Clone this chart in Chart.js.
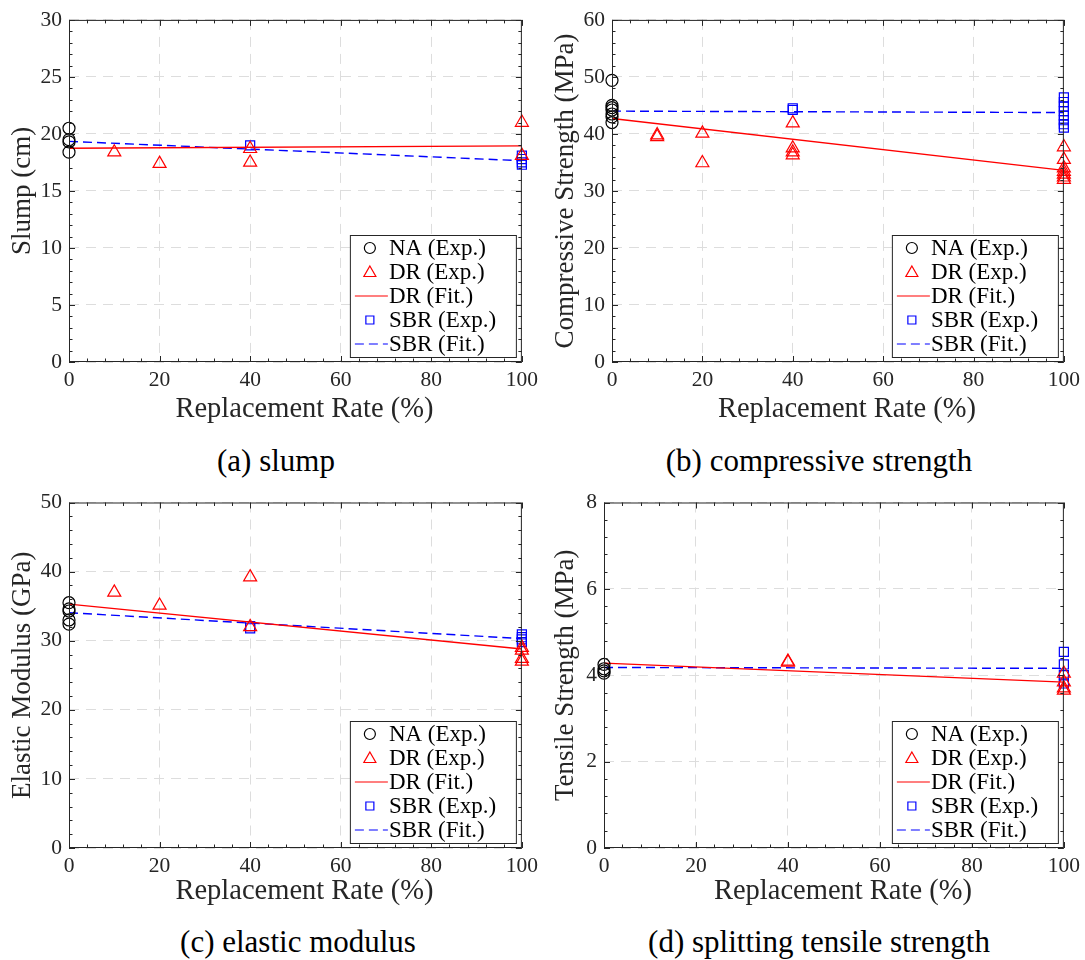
<!DOCTYPE html>
<html>
<head>
<meta charset="utf-8">
<title>Replacement rate</title>
<script src="https://cdn.jsdelivr.net/npm/chart.js@4.4.0/dist/chart.umd.min.js"></script>
<style>
  body { margin: 0; background: #fff; width: 1085px; height: 960px; position: relative; overflow: hidden; }
  .panel { position: absolute; }
  .caption { position: absolute; font-family: "Liberation Serif", serif; font-size: 31px; color: #000; white-space: nowrap; transform: translateX(-50%); }
</style>
</head>
<body>
<div class="panel" style="left:0;top:0"><canvas id="chartA" width="543" height="430"></canvas></div>
<div class="panel" style="left:543px;top:0"><canvas id="chartB" width="542" height="430"></canvas></div>
<div class="panel" style="left:0;top:482px"><canvas id="chartC" width="543" height="430"></canvas></div>
<div class="panel" style="left:543px;top:482px"><canvas id="chartD" width="542" height="430"></canvas></div>
<div class="caption" style="left:276px;top:443px">(a) slump</div>
<div class="caption" style="left:819px;top:443px">(b) compressive strength</div>
<div class="caption" style="left:298px;top:924px">(c) elastic modulus</div>
<div class="caption" style="left:819px;top:924px">(d) splitting tensile strength</div>

<script>
const FONT = '"Liberation Serif", serif';
const INK = '#262626';
const X_TITLE = 'Replacement Rate (%)';
const fitX = [0, 100];
const xTickValues = [0, 20, 40, 60, 80, 100];

// (a) slump, cm
const slumpNAy = [20.5, 19.5, 19.3, 18.4];
const slumpDRx = [10, 20, 40, 40, 100, 100];
const slumpDRy = [18.4, 17.4, 18.7, 17.5, 21.0, 18.1];
const slumpDRfit = [18.75, 18.95];
const slumpSBRx = [40, 100, 100, 100, 100];
const slumpSBRy = [19.0, 18.1, 17.8, 17.5, 17.3];
const slumpSBRfit = [19.35, 17.65];

// (b) compressive strength, MPa
const compNAy = [49.4, 45.0, 44.6, 44.2, 43.5, 43.0, 42.0];
const compDRx = [10, 10, 20, 20, 40, 40, 40, 40, 100, 100, 100, 100, 100, 100, 100];
const compDRy = [39.5, 39.8, 40.1, 34.9, 41.9, 37.5, 36.8, 36.3, 37.7, 35.5, 34.0, 33.4, 32.9, 32.4, 32.0];
const compDRfit = [42.7, 33.6];
const compSBRx = [40, 40, 100, 100, 100, 100, 100, 100, 100, 100];
const compSBRy = [44.5, 44.2, 46.4, 45.6, 44.8, 44.0, 43.2, 42.4, 41.7, 41.1];
const compSBRfit = [44.0, 43.75];

// (c) elastic modulus, GPa
const modNAy = [35.5, 34.6, 34.3, 33.0, 32.4];
const modDRx = [10, 20, 40, 40, 100, 100, 100, 100];
const modDRy = [37.0, 35.1, 39.2, 32.0, 29.0, 28.6, 27.4, 27.0];
const modDRfit = [35.3, 28.8];
const modSBRx = [40, 40, 100, 100, 100, 100];
const modSBRy = [32.1, 31.8, 30.9, 30.5, 30.2, 29.8];
const modSBRfit = [34.05, 30.3];

// (d) splitting tensile strength, MPa
const tenNAy = [4.25, 4.15, 4.1, 4.05];
const tenDRx = [40, 40, 100, 100, 100, 100];
const tenDRy = [4.32, 4.3, 4.04, 3.84, 3.7, 3.65];
const tenDRfit = [4.28, 3.84];
const tenSBRx = [100, 100, 100, 100];
const tenSBRy = [4.54, 4.25, 4.0, 3.81];
const tenSBRfit = [4.18, 4.16];

const legendItems = [
  { label: 'NA (Exp.)', kind: 'circle', color: '#000000' },
  { label: 'DR (Exp.)', kind: 'triangle', color: '#ff0000' },
  { label: 'DR (Fit.)', kind: 'line', color: '#ff0000' },
  { label: 'SBR (Exp.)', kind: 'rect', color: '#0000ff' },
  { label: 'SBR (Fit.)', kind: 'dash', color: '#0000ff' }
];

const toPoints = (xs, ys) => ys.map((y, i) => ({ x: xs[i], y }));
const atZero = ys => ys.map(y => ({ x: 0, y }));

// frame, inward ticks on all four sides, x label and the legend box
const framePlugin = {
  id: 'frame',
  afterDraw(chart) {
    const { ctx, chartArea: a, scales: { x, y } } = chart;
    const o = chart.options.plugins.frame;
    ctx.save();
    ctx.strokeStyle = INK;
    ctx.lineWidth = 1;
    ctx.strokeRect(a.left + 0.5, a.top + 0.5, a.right - a.left - 1, a.bottom - a.top - 1);
    ctx.beginPath();
    for (let v = 0; v <= 100 + 1e-9; v += 4) {
      const px = Math.round(x.getPixelForValue(v)) + 0.5;
      const len = v % 20 === 0 ? 6 : 3.5;
      ctx.moveTo(px, a.bottom); ctx.lineTo(px, a.bottom - len);
      ctx.moveTo(px, a.top); ctx.lineTo(px, a.top + len);
    }
    const minor = o.yStep / 5;
    for (let k = 0; k * minor <= o.yMax + 1e-9; k++) {
      const py = Math.round(y.getPixelForValue(k * minor)) + 0.5;
      const len = k % 5 === 0 ? 6 : 3.5;
      ctx.moveTo(a.left, py); ctx.lineTo(a.left + len, py);
      ctx.moveTo(a.right, py); ctx.lineTo(a.right - len, py);
    }
    ctx.stroke();

    ctx.fillStyle = INK;
    ctx.font = '28.5px ' + FONT;
    ctx.textAlign = 'center';
    ctx.textBaseline = 'middle';
    ctx.fillText(X_TITLE, (a.left + a.right) / 2 + 9, o.titleY);

    // legend
    const w = 166, h = 122;
    const lx = a.right - 6 - w, ly = a.bottom - 5 - h;
    ctx.fillStyle = '#fff';
    ctx.fillRect(lx, ly, w, h);
    ctx.strokeRect(lx + 0.5, ly + 0.5, w, h);
    ctx.font = '23px ' + FONT;
    ctx.textAlign = 'left';
    legendItems.forEach((it, i) => {
      const cy = ly + 13 + i * 24;
      const cx = lx + 20;
      ctx.strokeStyle = it.color;
      ctx.lineWidth = 1.2;
      ctx.beginPath();
      if (it.kind === 'circle') ctx.arc(cx, cy, 5.5, 0, Math.PI * 2);
      if (it.kind === 'triangle') { ctx.moveTo(cx, cy - 6); ctx.lineTo(cx + 6, cy + 4.5); ctx.lineTo(cx - 6, cy + 4.5); ctx.closePath(); }
      if (it.kind === 'rect') ctx.rect(cx - 4, cy - 4, 8, 8);
      if (it.kind === 'line') { ctx.moveTo(lx + 5, cy); ctx.lineTo(lx + 38, cy); }
      if (it.kind === 'dash') { ctx.setLineDash([9, 5]); ctx.moveTo(lx + 5, cy); ctx.lineTo(lx + 38, cy); }
      ctx.stroke();
      ctx.setLineDash([]);
      ctx.fillStyle = '#000';
      ctx.fillText(it.label, lx + 39, cy + 1);
    });
    ctx.restore();
  }
};

function makePanel(id, cfg) {
  const canvas = document.getElementById(id);
  const H = canvas.height, W = canvas.width;
  const lab = { family: FONT, size: 21.5 };
  return new Chart(canvas, {
    type: 'scatter',
    data: {
      datasets: [
        { data: atZero(cfg.na), pointStyle: 'circle', pointRadius: 6, borderColor: '#000', backgroundColor: 'transparent', borderWidth: 1.2, clip: false },
        { data: toPoints(cfg.drx, cfg.dry), pointStyle: 'triangle', pointRadius: 7.5, borderColor: '#ff0000', backgroundColor: 'transparent', borderWidth: 1.2, clip: false },
        { type: 'line', data: toPoints(fitX, cfg.drFit), borderColor: '#ff0000', borderWidth: 1.4, pointRadius: 0, fill: false },
        { data: toPoints(cfg.sbrx, cfg.sbry), pointStyle: 'rect', pointRadius: 6.4, borderColor: '#0000ff', backgroundColor: 'transparent', borderWidth: 1.2, clip: false },
        { type: 'line', data: toPoints(fitX, cfg.sbrFit), borderColor: '#0000ff', borderWidth: 1.4, borderDash: [9, 5], pointRadius: 0, fill: false }
      ]
    },
    options: {
      responsive: false,
      animation: false,
      layout: { padding: { left: 0, bottom: 0, top: cfg.top, right: W - cfg.right } },
      plugins: { legend: { display: false }, tooltip: { enabled: false }, frame: { yStep: cfg.step, yMax: cfg.max, titleY: cfg.titleY } },
      scales: {
        x: {
          type: 'linear', min: 0, max: 100,
          afterBuildTicks: s => { s.ticks = xTickValues.map(v => ({ value: v })); },
          afterFit: s => { s.height = H - cfg.bottom; },
          grid: { color: '#dddddd', lineWidth: 1, drawTicks: false },
          border: { display: false, dash: [10, 7] },
          ticks: { color: INK, font: lab, padding: 5, maxRotation: 0, autoSkip: false }
        },
        y: {
          type: 'linear', min: 0, max: cfg.max,
          ticks: { stepSize: cfg.step, color: INK, font: lab, padding: 7 },
          afterFit: s => { s.width = cfg.left; },
          grid: { color: '#dddddd', lineWidth: 1, drawTicks: false },
          border: { display: false, dash: [10, 7] },
          title: { display: true, text: cfg.yTitle, color: INK, font: { family: FONT, size: 27 }, padding: { top: 7, bottom: 0 } }
        }
      }
    },
    plugins: [framePlugin]
  });
}

makePanel('chartA', { na: slumpNAy, drx: slumpDRx, dry: slumpDRy, drFit: slumpDRfit, sbrx: slumpSBRx, sbry: slumpSBRy, sbrFit: slumpSBRfit,
  max: 30, step: 5, yTitle: 'Slump (cm)', left: 69, right: 522, top: 19.5, bottom: 362, titleY: 410 });
makePanel('chartB', { na: compNAy, drx: compDRx, dry: compDRy, drFit: compDRfit, sbrx: compSBRx, sbry: compSBRy, sbrFit: compSBRfit,
  max: 60, step: 10, yTitle: 'Compressive Strength (MPa)', left: 69, right: 523, top: 19.5, bottom: 362, titleY: 410 });
makePanel('chartC', { na: modNAy, drx: modDRx, dry: modDRy, drFit: modDRfit, sbrx: modSBRx, sbry: modSBRy, sbrFit: modSBRfit,
  max: 50, step: 10, yTitle: 'Elastic Modulus (GPa)', left: 69, right: 522, top: 20.5, bottom: 366, titleY: 410 });
makePanel('chartD', { na: tenNAy, drx: tenDRx, dry: tenDRy, drFit: tenDRfit, sbrx: tenSBRx, sbry: tenSBRy, sbrFit: tenSBRfit,
  max: 8, step: 2, yTitle: 'Tensile Strength (MPa)', left: 61, right: 523, top: 20.5, bottom: 366, titleY: 410 });
</script>
</body>
</html>
